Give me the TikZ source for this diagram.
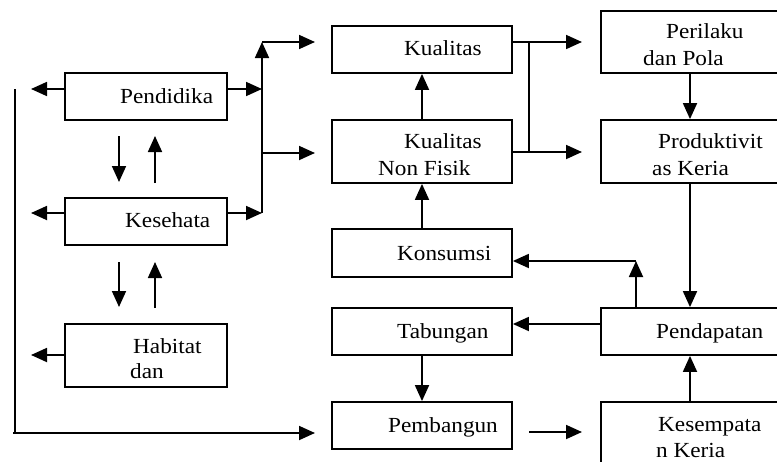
\documentclass[tikz,border=0pt]{standalone}
\usepackage{fontspec}
\setmainfont{Liberation Serif}[FakeStretch=1.08]
\usetikzlibrary{arrows.meta}
\begin{document}
\begin{tikzpicture}[x=1pt,y=-1pt,
  box/.style={draw,line width=1.8pt,rectangle,inner sep=0pt},
  txt/.style={anchor=base west,inner sep=0pt,font=\fontsize{21.5}{25}\selectfont},
  arr/.style={line width=1.8pt,-{Triangle[length=16pt,width=14pt]}},
  ln/.style={line width=1.8pt}]
\clip (0,0) rectangle (777,461);
\fill[white] (0,0) rectangle (777,461);
% boxes
\node[box,minimum width=162pt,minimum height=47pt] (pend) at (146,96.5) {};
\node[box,minimum width=162pt,minimum height=47pt] (kes) at (146,221.5) {};
\node[box,minimum width=162pt,minimum height=63pt] (hab) at (146,355.5) {};
\node[box,minimum width=180pt,minimum height=47pt] (kual) at (422,49.5) {};
\node[box,minimum width=180pt,minimum height=63pt] (knf) at (422,151.5) {};
\node[box,minimum width=180pt,minimum height=48pt] (kons) at (422,253) {};
\node[box,minimum width=180pt,minimum height=47pt] (tab) at (422,331.5) {};
\node[box,minimum width=180pt,minimum height=47pt] (pemb) at (422,425.5) {};
\node[box,minimum width=178pt,minimum height=62pt] (peri) at (690,42) {};
\node[box,minimum width=178pt,minimum height=63pt] (prod) at (690,151.5) {};
\node[box,minimum width=178pt,minimum height=47pt] (pdpt) at (690,331.5) {};
\node[box,minimum width=178pt,minimum height=63pt] (kesem) at (690,433.5) {};
% texts
\node[txt] (t1) at (120,103) {Pendidika};
\node[txt] (t2) at (125,227) {Kesehata};
\node[txt] (t3) at (133,353) {Habitat};
\node[txt] (t3b) at (130,378) {dan};
\node[txt] (t4) at (404,55) {Kualitas};
\node[txt] (t5) at (404,148) {Kualitas};
\node[txt] (t5b) at (378,175) {Non Fisik};
\node[txt] (t6) at (397,260) {Konsumsi};
\node[txt] (t7) at (397,338) {Tabungan};
\node[txt] (t8) at (388,432) {Pembangun};
\node[txt] (t9) at (666,38) {Perilaku};
\node[txt] (t9b) at (643,65) {dan Pola};
\node[txt] (t10) at (658,148) {Produktivit};
\node[txt] (t10b) at (652,175) {as Keria};
\node[txt] (t11) at (656,338) {Pendapatan};
\node[txt] (t12) at (658,431) {Kesempata};
\node[txt] (t12b) at (656,457) {n Keria};
% coordinates
\coordinate (pl) at (31,89);
\coordinate (kl) at (31,213);
\coordinate (hl) at (31,355);
\coordinate (vt) at (15,89);
\coordinate (vb) at (15,433);
\coordinate (vbe) at (315,433);
\coordinate (pr) at (262,89);
\coordinate (kr) at (262,213);
\coordinate (jt) at (262,42);
\coordinate (jte) at (315,42);
\coordinate (jm) at (262,153);
\coordinate (jme) at (315,153);
\coordinate (kt) at (529,42);
\coordinate (kte) at (582,42);
\coordinate (km) at (529,152);
\coordinate (kme) at (582,152);
\coordinate (pu) at (636,261);
\coordinate (ps) at (529,432);
\coordinate (pe) at (582,432);
% left arrows
\draw[arr] (pend.west |- pl) -- (pl);
\draw[arr] (kes.west |- kl) -- (kl);
\draw[arr] (hab.west |- hl) -- (hl);
\draw[ln] (vt) -- (vb);
\draw[arr] ([xshift=-2pt]vb) -- (vbe);
% vertical pairs
\draw[arr] (119,136) coordinate (d1) -- (119,182) coordinate (d1e);
\draw[arr] (155,183) coordinate (u1) -- (155,136) coordinate (u1e);
\draw[arr] (119,262) coordinate (d2) -- (119,307) coordinate (d2e);
\draw[arr] (155,308) coordinate (u2) -- (155,262) coordinate (u2e);
% right arrows from left column
\draw[arr] (pend.east |- pr) -- (pr);
\draw[arr] (kes.east |- kr) -- (kr);
\draw[arr] (kr) -- (jt);
\draw[arr] (jt) -- (jte);
\draw[arr] (jm) -- (jme);
% middle column
\draw[arr] (knf.north) -- (kual.south);
\draw[arr] (kons.north) -- (knf.south);
\draw[arr] (kual.east |- kt) -- (kte);
\draw[ln] (kt) -- (km);
\draw[arr] (knf.east |- km) -- (kme);
\draw[arr] (tab.south) -- (pemb.north);
\draw[arr] (ps) -- (pe);
% right column
\draw[arr] (peri.south) -- (prod.north);
\draw[arr] (prod.south) -- (pdpt.north);
\draw[arr] (kesem.north) -- (pdpt.south);
\draw[arr] (pdpt.west |- 0,324) -- (tab.east |- 0,324);
\draw[arr] (pdpt.north -| pu) -- (pu);
\draw[arr] (pu) -- (kons.east |- pu);
\end{tikzpicture}
\end{document}
